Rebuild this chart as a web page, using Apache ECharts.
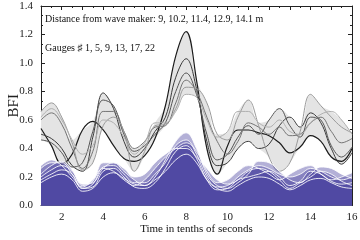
<!DOCTYPE html>
<html>
<head>
<meta charset="utf-8">
<script src="https://cdn.jsdelivr.net/npm/echarts@6/dist/echarts.min.js"></script>
<style>
html,body{margin:0;padding:0;background:#fff;}
#chart{width:360px;height:240px;}
</style>
</head>
<body>
<div id="chart"></div>
<script>
// time in tenths of seconds
const t = [1,1.5,2,2.5,3,3.5,4,4.5,5,5.5,6,6.5,7,7.5,8,8.5,9,9.5,10,10.5,11,11.5,12,12.5,13,13.5,14,14.5,15,15.5,16];

// BFI of gauges (grey/black curves)
const g1 = [0.54,0.42,0.29,0.36,0.53,0.59,0.53,0.42,0.33,0.31,0.35,0.47,0.70,1.05,1.22,0.88,0.40,0.22,0.42,0.53,0.53,0.51,0.49,0.44,0.37,0.41,0.49,0.45,0.34,0.31,0.40];
const g2 = [0.50,0.47,0.40,0.28,0.24,0.48,0.79,0.68,0.45,0.34,0.40,0.52,0.62,0.90,1.03,0.82,0.45,0.28,0.30,0.40,0.45,0.40,0.43,0.56,0.62,0.55,0.65,0.58,0.40,0.29,0.37];
const g3 = [0.46,0.44,0.37,0.27,0.30,0.52,0.74,0.70,0.50,0.38,0.42,0.50,0.58,0.80,0.93,0.78,0.50,0.32,0.36,0.48,0.56,0.50,0.60,0.68,0.56,0.48,0.62,0.60,0.42,0.34,0.41];
const g4 = [0.60,0.65,0.57,0.40,0.26,0.38,0.66,0.66,0.52,0.40,0.45,0.55,0.56,0.72,0.88,0.80,0.62,0.45,0.36,0.45,0.58,0.55,0.50,0.55,0.49,0.50,0.58,0.62,0.52,0.44,0.47];
const g5 = [0.66,0.72,0.62,0.44,0.25,0.30,0.56,0.62,0.52,0.24,0.38,0.56,0.57,0.68,0.83,0.82,0.72,0.50,0.46,0.62,0.74,0.56,0.34,0.24,0.30,0.52,0.78,0.70,0.62,0.55,0.51];
const g6 = [0.62,0.68,0.60,0.46,0.36,0.42,0.60,0.58,0.48,0.36,0.44,0.58,0.58,0.66,0.78,0.76,0.60,0.48,0.52,0.66,0.66,0.58,0.55,0.60,0.52,0.50,0.58,0.64,0.66,0.60,0.50];

// purple (lower) curves
const p1 = [0.26,0.30,0.30,0.22,0.12,0.15,0.27,0.28,0.22,0.16,0.16,0.22,0.30,0.42,0.46,0.36,0.20,0.13,0.14,0.20,0.25,0.28,0.26,0.22,0.20,0.22,0.26,0.24,0.20,0.18,0.20];
const p2 = [0.22,0.28,0.31,0.25,0.14,0.17,0.30,0.30,0.24,0.18,0.14,0.20,0.32,0.45,0.51,0.40,0.22,0.14,0.12,0.16,0.22,0.31,0.30,0.24,0.18,0.16,0.22,0.27,0.26,0.22,0.19];
const p3 = [0.18,0.22,0.25,0.22,0.12,0.13,0.24,0.26,0.20,0.13,0.12,0.16,0.26,0.38,0.42,0.33,0.18,0.11,0.12,0.18,0.20,0.22,0.24,0.20,0.14,0.17,0.24,0.22,0.17,0.15,0.16];
const p4 = [0.28,0.32,0.28,0.20,0.13,0.18,0.26,0.24,0.18,0.14,0.18,0.26,0.34,0.40,0.44,0.38,0.24,0.16,0.18,0.24,0.28,0.26,0.22,0.18,0.22,0.26,0.28,0.22,0.18,0.20,0.23];
const p5 = [0.20,0.25,0.28,0.24,0.15,0.16,0.26,0.30,0.26,0.20,0.22,0.30,0.36,0.40,0.40,0.34,0.26,0.18,0.15,0.18,0.24,0.26,0.24,0.18,0.12,0.16,0.20,0.24,0.22,0.17,0.14];
const p6 = [0.16,0.20,0.22,0.18,0.10,0.12,0.20,0.23,0.19,0.15,0.14,0.18,0.24,0.32,0.36,0.30,0.18,0.12,0.10,0.14,0.18,0.20,0.19,0.15,0.11,0.14,0.18,0.19,0.16,0.13,0.12];

const xTicks = [2,4,6,8,10,12,14,16];
const yTicks = [0.0,0.2,0.4,0.6,0.8,1.0,1.2,1.4];

const gauges = [g1,g2,g3,g4,g5,g6];
const greys = ['#1c1c1c','#3a3a3a','#555555','#747474','#9a9a9a','#b0b0b0'];
const purples = [p1,p2,p3,p4,p5,p6];

const pts = arr => t.map((x,i)=>[x, arr[i]]);
const bandMax = t.map((x,i)=>[x, Math.max(...gauges.map(g=>g[i]))]);
const bandMin = t.map((x,i)=>[x, Math.min(...gauges.map(g=>g[i]))]);

const FONT = 'Liberation Serif';
const SM = 0.4;
const series = [];
series.push({type:'line', data:bandMax, smooth:SM, symbol:'none', silent:true, z:1,
  lineStyle:{width:0}, areaStyle:{color:'#e4e4e4', opacity:1}});
series.push({type:'line', data:bandMin, smooth:SM, symbol:'none', silent:true, z:2,
  lineStyle:{width:0}, areaStyle:{color:'#ffffff', opacity:1}});
gauges.forEach((g,k)=>{
  series.push({type:'line', data:pts(g), smooth:SM, symbol:'none', z:3,
    lineStyle:{color:greys[k], width:k===0?1.2:1}});
});
purples.forEach((p,k)=>{
  series.push({type:'line', data:pts(p), smooth:SM, symbol:'none', z:4,
    lineStyle:{color:'rgba(255,255,255,0.85)', width:1},
    areaStyle:{color:'rgba(74,66,160,0.42)', opacity:1}});
});

const axisCommonX = {
  type:'value', min:1, max:16, interval:1,
  axisLine:{show:true, onZero:false, lineStyle:{color:'#222', width:1}},
  axisTick:{show:true, inside:true, length:4, lineStyle:{color:'#222'}},
  minorTick:{show:true, splitNumber:2, length:2, lineStyle:{color:'#222'}},
  splitLine:{show:false}
};
const axisCommonY = {
  type:'value', min:0, max:1.4, interval:0.2,
  axisLine:{show:true, onZero:false, lineStyle:{color:'#222', width:1}},
  axisTick:{show:true, inside:true, length:4, lineStyle:{color:'#222'}},
  minorTick:{show:true, splitNumber:3, length:2, lineStyle:{color:'#222'}},
  splitLine:{show:false}
};

const option = {
  animation:false,
  backgroundColor:'#fff',
  grid:{left:41, right:8, top:6, bottom:34.5, containLabel:false, outerBoundsMode:'none'},
  xAxis:[
    Object.assign({}, axisCommonX, {position:'bottom',
      axisLabel:{show:true, margin:6, color:'#222', fontFamily:FONT, fontSize:11,
        formatter:v=> xTicks.includes(v) ? String(v) : ''},
      name:'Time in tenths of seconds', nameLocation:'middle', nameGap:18, nameMoveOverlap:false,
      nameTextStyle:{color:'#111', fontFamily:FONT, fontSize:11}}),
    Object.assign({}, axisCommonX, {position:'top', axisLabel:{show:false}})
  ],
  yAxis:[
    Object.assign({}, axisCommonY, {position:'left',
      axisLabel:{show:true, margin:8, color:'#222', fontFamily:FONT, fontSize:11,
        formatter:v=>{ const m = yTicks.find(y=>Math.abs(y-v)<1e-6); return m===undefined?'':m.toFixed(1);}},
      name:'BFI', nameLocation:'middle', nameGap:19, nameRotate:90, nameMoveOverlap:false,
      nameTextStyle:{color:'#222', fontFamily:FONT, fontSize:15}}),
    Object.assign({}, axisCommonY, {position:'right', axisLabel:{show:false}})
  ],
  graphic:[
    {type:'text', left:45, top:14, style:{text:'Distance from wave maker: 9, 10.2, 11.4, 12.9, 14.1 m', fill:'#111', font:'10px "Liberation Serif"'}},
    {type:'text', left:45, top:43, style:{text:'Gauges \u266F 1, 5, 9, 13, 17, 22', fill:'#111', font:'10px "Liberation Serif"'}}
  ],
  series:series
};
const chart = echarts.init(document.getElementById('chart'), null, {renderer:'canvas'});
chart.setOption(option);
</script>
</body>
</html>
